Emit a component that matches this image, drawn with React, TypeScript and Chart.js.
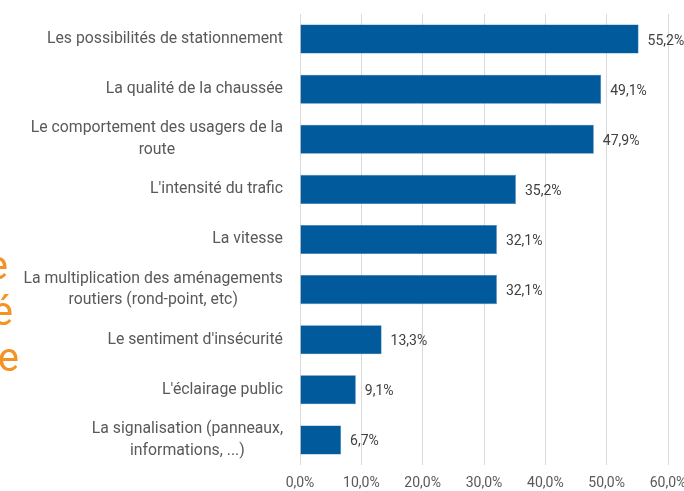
import React, { useEffect, useRef } from "react";
import { Chart, registerables } from "chart.js";

Chart.register(...registerables);

const categories: string[][] = [
  ["Les possibilités de stationnement"],
  ["La qualité de la chaussée"],
  ["Le comportement des usagers de la", "route"],
  ["L'intensité du trafic"],
  ["La vitesse"],
  ["La multiplication des aménagements", "routiers (rond-point, etc)"],
  ["Le sentiment d'insécurité"],
  ["L'éclairage public"],
  ["La signalisation (panneaux,", "informations, ...)"],
];
const values: number[] = [55.2, 49.1, 47.9, 35.2, 32.1, 32.1, 13.3, 9.1, 6.7];
const sideLetters: string[] = ["e", "é", "e"];

const fmt = (v: number) => v.toFixed(1).replace(".", ",") + "%";

const FONT = "Roboto, 'Noto Sans', sans-serif";

const labelsPlugin = {
  id: "customLabels",
  afterDatasetsDraw(chart: any) {
    const ctx = chart.ctx;
    const yScale = chart.scales.y;
    const area = chart.chartArea;
    ctx.save();
    ctx.font = `15.8px ${FONT}`;
    ctx.fillStyle = "#595959";
    ctx.textBaseline = "middle";
    ctx.textAlign = "center";
    const right = area.left - 17;
    const lh = 21.5;
    categories.forEach((lines, i) => {
      const y = yScale.getPixelForValue(i);
      const w = Math.max(...lines.map((l) => ctx.measureText(l).width));
      const cx = right - w / 2;
      const y0 = y - ((lines.length - 1) * lh) / 2;
      lines.forEach((l, j) => ctx.fillText(l, cx, y0 + j * lh));
    });
    ctx.font = `14px ${FONT}`;
    ctx.fillStyle = "#404040";
    ctx.textAlign = "left";
    const meta = chart.getDatasetMeta(0);
    meta.data.forEach((bar: any, i: number) => {
      ctx.fillText(fmt(values[i]), bar.x + 9, bar.y + 2);
    });
    ctx.restore();
  },
};

function BarChart() {
  const ref = useRef<HTMLCanvasElement | null>(null);
  useEffect(() => {
    if (!ref.current) return;
    const chart = new Chart(ref.current, {
      type: "bar",
      data: {
        labels: categories.map((c) => c.join(" ")),
        datasets: [
          {
            data: values,
            backgroundColor: "#005A9C",
            borderColor: "#2E75B0",
            borderWidth: 0.6,
            barPercentage: 0.58,
            categoryPercentage: 1,
          },
        ],
      },
      options: {
        indexAxis: "y",
        animation: false,
        responsive: true,
        maintainAspectRatio: false,
        layout: { padding: { top: 14, right: 16, left: 0, bottom: 0 } },
        plugins: {
          legend: { display: false },
          tooltip: { enabled: false },
        },
        scales: {
          x: {
            min: 0,
            max: 60,
            ticks: {
              stepSize: 10,
              callback: (v: any) => fmt(Number(v)),
              font: { family: FONT, size: 14 },
              color: "#595959",
              padding: 10,
            },
            grid: { color: "#D9D9D9", lineWidth: 1, drawTicks: false },
            border: { display: false },
            afterFit: (s: any) => {
              s.height = 26;
              s.paddingRight = 0;
              s.paddingLeft = 0;
            },
          },
          y: {
            ticks: { display: false },
            grid: { display: false },
            border: { display: false },
            afterFit: (s: any) => {
              s.width = 300;
              s.paddingTop = 0;
              s.paddingBottom = 0;
            },
          },
        },
      },
      plugins: [labelsPlugin],
    } as any);
    return () => chart.destroy();
  }, []);
  return <canvas ref={ref} />;
}

export default function App() {
  const letterRight = [676, 671, 665];
  const letterTop = [242, 288, 334];
  return (
    <div
      style={{
        position: "fixed",
        left: 0,
        top: 0,
        width: 684,
        height: 491,
        background: "#ffffff",
        overflow: "hidden",
      }}
    >
      <div style={{ position: "absolute", left: 0, top: 0, width: 684, height: 491 }}>
        <BarChart />
      </div>
      {sideLetters.map((ch, i) => (
        <span
          key={i}
          style={{
            position: "absolute",
            right: letterRight[i],
            top: letterTop[i],
            fontFamily: FONT,
            fontSize: 40,
            lineHeight: "48px",
            color: "#F39323",
            whiteSpace: "nowrap",
          }}
        >
          {ch}
        </span>
      ))}
    </div>
  );
}
